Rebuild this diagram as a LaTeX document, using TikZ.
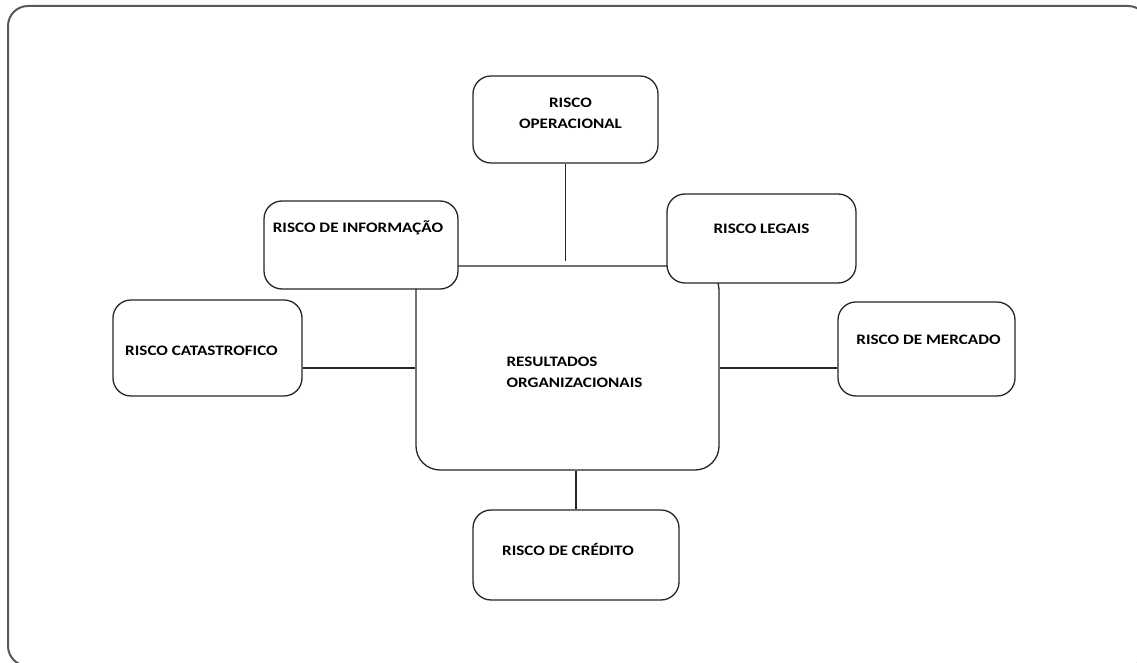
\documentclass[tikz,border=0pt]{standalone}
\usepackage{fontspec}
\setmainfont{Carlito}[FakeStretch=1.18]
\usepackage{tikz}
\usetikzlibrary{positioning}

\begin{document}
\begin{tikzpicture}[x=1pt, y=1pt,
	caixa/.style = {draw = black!85, line width = 1.3pt, rounded corners = 18pt, fill = white, inner sep = 0pt},
	rotulo/.style = {font = \bfseries\fontsize{14.5}{21}\selectfont, align = center, inner sep = 0pt},
	liga/.style = {draw = black!85, line width = 1.3pt}]
	\useasboundingbox (0,0) rectangle (1137,663);
	\draw [black!65, line width = 2pt, rounded corners = 20pt] (8,657) rectangle (1148,-3);
	% caixa central primeiro, as outras por cima
	\node [caixa, rounded corners = 24pt, minimum width = 303, minimum height = 204] (res) at (567.5,295) {};
	\node [caixa, minimum width = 185, minimum height = 87] (oper) at (565.5,543.5) {};
	\node [caixa, minimum width = 194, minimum height = 88] (inf) at (361,418) {};
	\node [caixa, minimum width = 189, minimum height = 89] (leg) at (761.5,424.5) {};
	\node [caixa, minimum width = 189, minimum height = 96] (cat) at (207.5,315) {};
	\node [caixa, minimum width = 177, minimum height = 94] (mer) at (926.5,314) {};
	\node [caixa, minimum width = 206, minimum height = 90] (cre) at (576,108) {};
	% textos
	\node [rotulo, align = left] (resT) at ([xshift = 7, yshift = -106.5]res.north) {RESULTADOS\\ORGANIZACIONAIS};
	\node [rotulo] (operT) at ([xshift = 5, yshift = -37.5]oper.north) {RISCO\\OPERACIONAL};
	\node [rotulo] (infT) at ([xshift = -3, yshift = -27]inf.north) {RISCO DE INFORMAÇÃO};
	\node [rotulo] (legT) at ([yshift = -35]leg.north) {RISCO LEGAIS};
	\node [rotulo] (catT) at ([xshift = -6, yshift = -51]cat.north) {RISCO CATASTROFICO};
	\node [rotulo] (merT) at ([xshift = 2, yshift = -38]mer.north) {RISCO DE MERCADO};
	\node [rotulo] (creT) at ([xshift = -8, yshift = -40]cre.north) {RISCO DE CRÉDITO};
	% ligacoes
	\draw [liga] (oper.south) -- ([yshift = 4]oper.south |- res.north);
	\draw [liga] (cat.east |- res.west) -- (res.west);
	\draw [liga] (res.east) -- (mer.west |- res.east);
	\draw [liga] (cre.north |- res.south) -- (cre.north);
\end{tikzpicture}
\end{document}
